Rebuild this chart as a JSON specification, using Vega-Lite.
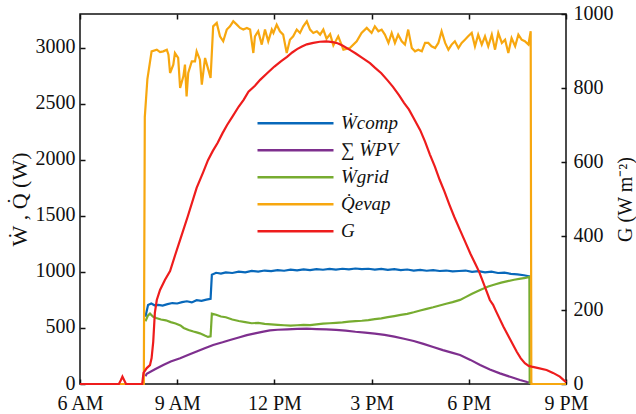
{
  "$schema": "https://vega.github.io/schema/vega-lite/v6.json",
  "width": 486,
  "height": 370,
  "autosize": {"type": "none"},
  "padding": {"left": 80, "top": 14, "right": 70, "bottom": 30},
  "background": "white",
  "config": {
    "font": "Liberation Serif",
    "view": {"stroke": "#111111", "strokeWidth": 1.5},
    "axis": {
      "domain": false,
      "grid": false,
      "tickSize": -5,
      "tickColor": "#111111",
      "tickWidth": 1.5,
      "labelFont": "Liberation Serif",
      "labelFontSize": 20,
      "labelColor": "#111111",
      "labelFlush": false,
      "labelOverlap": false,
      "titleFont": "Liberation Serif",
      "titleFontWeight": "normal",
      "titleColor": "#111111"
    }
  },
  "datasets": {
    "power": [
      {"t": 8.02, "s": "comp", "v": 600}, {"t": 8.1, "s": "comp", "v": 705}, {"t": 8.2, "s": "comp", "v": 718}, {"t": 8.3, "s": "comp", "v": 702},
      {"t": 8.42, "s": "comp", "v": 706}, {"t": 8.55, "s": "comp", "v": 700}, {"t": 8.7, "s": "comp", "v": 712}, {"t": 8.85, "s": "comp", "v": 722},
      {"t": 9.0, "s": "comp", "v": 718}, {"t": 9.15, "s": "comp", "v": 730}, {"t": 9.3, "s": "comp", "v": 738}, {"t": 9.45, "s": "comp", "v": 728},
      {"t": 9.6, "s": "comp", "v": 748}, {"t": 9.75, "s": "comp", "v": 742}, {"t": 9.9, "s": "comp", "v": 752}, {"t": 10.03, "s": "comp", "v": 760},
      {"t": 10.07, "s": "comp", "v": 975}, {"t": 10.2, "s": "comp", "v": 992}, {"t": 10.35, "s": "comp", "v": 985}, {"t": 10.5, "s": "comp", "v": 996},
      {"t": 10.7, "s": "comp", "v": 990}, {"t": 10.9, "s": "comp", "v": 1002}, {"t": 11.1, "s": "comp", "v": 996}, {"t": 11.3, "s": "comp", "v": 1008},
      {"t": 11.5, "s": "comp", "v": 1003}, {"t": 11.7, "s": "comp", "v": 1012}, {"t": 11.9, "s": "comp", "v": 1006}, {"t": 12.1, "s": "comp", "v": 1015},
      {"t": 12.3, "s": "comp", "v": 1010}, {"t": 12.5, "s": "comp", "v": 1020}, {"t": 12.7, "s": "comp", "v": 1014}, {"t": 12.9, "s": "comp", "v": 1022},
      {"t": 13.1, "s": "comp", "v": 1016}, {"t": 13.3, "s": "comp", "v": 1025}, {"t": 13.5, "s": "comp", "v": 1019}, {"t": 13.7, "s": "comp", "v": 1027},
      {"t": 13.9, "s": "comp", "v": 1020}, {"t": 14.1, "s": "comp", "v": 1028}, {"t": 14.3, "s": "comp", "v": 1022}, {"t": 14.5, "s": "comp", "v": 1030},
      {"t": 14.7, "s": "comp", "v": 1024}, {"t": 14.9, "s": "comp", "v": 1028}, {"t": 15.1, "s": "comp", "v": 1020}, {"t": 15.3, "s": "comp", "v": 1026},
      {"t": 15.5, "s": "comp", "v": 1018}, {"t": 15.7, "s": "comp", "v": 1024}, {"t": 15.9, "s": "comp", "v": 1015}, {"t": 16.1, "s": "comp", "v": 1021},
      {"t": 16.3, "s": "comp", "v": 1012}, {"t": 16.5, "s": "comp", "v": 1018}, {"t": 16.7, "s": "comp", "v": 1010}, {"t": 16.9, "s": "comp", "v": 1016},
      {"t": 17.1, "s": "comp", "v": 1008}, {"t": 17.3, "s": "comp", "v": 1012}, {"t": 17.5, "s": "comp", "v": 1004}, {"t": 17.7, "s": "comp", "v": 1008},
      {"t": 17.9, "s": "comp", "v": 1012}, {"t": 18.1, "s": "comp", "v": 1000}, {"t": 18.3, "s": "comp", "v": 1006}, {"t": 18.5, "s": "comp", "v": 995},
      {"t": 18.7, "s": "comp", "v": 1002}, {"t": 18.9, "s": "comp", "v": 990}, {"t": 19.1, "s": "comp", "v": 994}, {"t": 19.3, "s": "comp", "v": 982},
      {"t": 19.5, "s": "comp", "v": 978}, {"t": 19.7, "s": "comp", "v": 970}, {"t": 19.9, "s": "comp", "v": 958},

      {"t": 8.02, "s": "pv", "v": 70}, {"t": 8.06, "s": "pv", "v": 92}, {"t": 8.3, "s": "pv", "v": 130}, {"t": 8.57, "s": "pv", "v": 170},
      {"t": 8.8, "s": "pv", "v": 200}, {"t": 9.09, "s": "pv", "v": 229}, {"t": 9.35, "s": "pv", "v": 260}, {"t": 9.6, "s": "pv", "v": 289},
      {"t": 9.85, "s": "pv", "v": 318}, {"t": 10.11, "s": "pv", "v": 348}, {"t": 10.4, "s": "pv", "v": 372}, {"t": 10.63, "s": "pv", "v": 393},
      {"t": 10.9, "s": "pv", "v": 415}, {"t": 11.15, "s": "pv", "v": 436}, {"t": 11.4, "s": "pv", "v": 452}, {"t": 11.66, "s": "pv", "v": 467},
      {"t": 11.86, "s": "pv", "v": 478}, {"t": 12.1, "s": "pv", "v": 484}, {"t": 12.4, "s": "pv", "v": 488}, {"t": 12.7, "s": "pv", "v": 492},
      {"t": 13.0, "s": "pv", "v": 494}, {"t": 13.3, "s": "pv", "v": 490}, {"t": 13.6, "s": "pv", "v": 487}, {"t": 13.9, "s": "pv", "v": 482},
      {"t": 14.2, "s": "pv", "v": 476}, {"t": 14.5, "s": "pv", "v": 466}, {"t": 14.8, "s": "pv", "v": 458}, {"t": 15.1, "s": "pv", "v": 450},
      {"t": 15.4, "s": "pv", "v": 438}, {"t": 15.7, "s": "pv", "v": 422}, {"t": 16.0, "s": "pv", "v": 404}, {"t": 16.3, "s": "pv", "v": 384},
      {"t": 16.6, "s": "pv", "v": 358}, {"t": 16.9, "s": "pv", "v": 330}, {"t": 17.2, "s": "pv", "v": 302}, {"t": 17.5, "s": "pv", "v": 278},
      {"t": 17.73, "s": "pv", "v": 259}, {"t": 18.05, "s": "pv", "v": 215}, {"t": 18.35, "s": "pv", "v": 170}, {"t": 18.65, "s": "pv", "v": 130},
      {"t": 18.96, "s": "pv", "v": 95}, {"t": 19.3, "s": "pv", "v": 62}, {"t": 19.58, "s": "pv", "v": 36}, {"t": 19.8, "s": "pv", "v": 18},
      {"t": 19.95, "s": "pv", "v": 8},

      {"t": 8.02, "s": "grid", "v": 560}, {"t": 8.1, "s": "grid", "v": 612}, {"t": 8.16, "s": "grid", "v": 628}, {"t": 8.25, "s": "grid", "v": 602},
      {"t": 8.35, "s": "grid", "v": 588}, {"t": 8.5, "s": "grid", "v": 575}, {"t": 8.65, "s": "grid", "v": 568}, {"t": 8.8, "s": "grid", "v": 552},
      {"t": 8.95, "s": "grid", "v": 540}, {"t": 9.1, "s": "grid", "v": 522}, {"t": 9.2, "s": "grid", "v": 500}, {"t": 9.35, "s": "grid", "v": 482},
      {"t": 9.5, "s": "grid", "v": 468}, {"t": 9.6, "s": "grid", "v": 460}, {"t": 9.7, "s": "grid", "v": 452}, {"t": 9.85, "s": "grid", "v": 432},
      {"t": 9.95, "s": "grid", "v": 420}, {"t": 10.03, "s": "grid", "v": 425}, {"t": 10.07, "s": "grid", "v": 628}, {"t": 10.2, "s": "grid", "v": 618},
      {"t": 10.35, "s": "grid", "v": 602}, {"t": 10.5, "s": "grid", "v": 595}, {"t": 10.7, "s": "grid", "v": 575}, {"t": 10.9, "s": "grid", "v": 562},
      {"t": 11.1, "s": "grid", "v": 552}, {"t": 11.3, "s": "grid", "v": 542}, {"t": 11.5, "s": "grid", "v": 545}, {"t": 11.7, "s": "grid", "v": 536},
      {"t": 11.9, "s": "grid", "v": 532}, {"t": 12.1, "s": "grid", "v": 528}, {"t": 12.3, "s": "grid", "v": 524}, {"t": 12.5, "s": "grid", "v": 520},
      {"t": 12.7, "s": "grid", "v": 524}, {"t": 12.9, "s": "grid", "v": 528}, {"t": 13.1, "s": "grid", "v": 526}, {"t": 13.3, "s": "grid", "v": 532},
      {"t": 13.5, "s": "grid", "v": 538}, {"t": 13.7, "s": "grid", "v": 542}, {"t": 13.9, "s": "grid", "v": 546}, {"t": 14.1, "s": "grid", "v": 550},
      {"t": 14.3, "s": "grid", "v": 556}, {"t": 14.5, "s": "grid", "v": 560}, {"t": 14.7, "s": "grid", "v": 564}, {"t": 14.9, "s": "grid", "v": 570},
      {"t": 15.1, "s": "grid", "v": 578}, {"t": 15.3, "s": "grid", "v": 586}, {"t": 15.5, "s": "grid", "v": 596}, {"t": 15.7, "s": "grid", "v": 606},
      {"t": 15.9, "s": "grid", "v": 616}, {"t": 16.1, "s": "grid", "v": 626}, {"t": 16.3, "s": "grid", "v": 640}, {"t": 16.5, "s": "grid", "v": 656},
      {"t": 16.7, "s": "grid", "v": 670}, {"t": 16.9, "s": "grid", "v": 684}, {"t": 17.1, "s": "grid", "v": 700}, {"t": 17.3, "s": "grid", "v": 716},
      {"t": 17.5, "s": "grid", "v": 730}, {"t": 17.73, "s": "grid", "v": 750}, {"t": 17.9, "s": "grid", "v": 775}, {"t": 18.1, "s": "grid", "v": 805},
      {"t": 18.35, "s": "grid", "v": 839}, {"t": 18.6, "s": "grid", "v": 870}, {"t": 18.8, "s": "grid", "v": 888}, {"t": 19.0, "s": "grid", "v": 904},
      {"t": 19.2, "s": "grid", "v": 918}, {"t": 19.4, "s": "grid", "v": 930}, {"t": 19.6, "s": "grid", "v": 940}, {"t": 19.75, "s": "grid", "v": 946},
      {"t": 19.87, "s": "grid", "v": 955}, {"t": 19.88, "s": "grid", "v": 0},

      {"t": 6.0, "s": "evap", "v": 0}, {"t": 7.97, "s": "evap", "v": 0}, {"t": 8.0, "s": "evap", "v": 2380}, {"t": 8.08, "s": "evap", "v": 2720},
      {"t": 8.21, "s": "evap", "v": 2967}, {"t": 8.37, "s": "evap", "v": 2982}, {"t": 8.47, "s": "evap", "v": 2960}, {"t": 8.57, "s": "evap", "v": 2967},
      {"t": 8.68, "s": "evap", "v": 2982}, {"t": 8.73, "s": "evap", "v": 2937}, {"t": 8.78, "s": "evap", "v": 2774}, {"t": 8.88, "s": "evap", "v": 2848},
      {"t": 8.93, "s": "evap", "v": 2952}, {"t": 9.03, "s": "evap", "v": 2908}, {"t": 9.09, "s": "evap", "v": 2640}, {"t": 9.19, "s": "evap", "v": 2744},
      {"t": 9.24, "s": "evap", "v": 2848}, {"t": 9.29, "s": "evap", "v": 2565}, {"t": 9.34, "s": "evap", "v": 2774}, {"t": 9.45, "s": "evap", "v": 2878},
      {"t": 9.55, "s": "evap", "v": 2878}, {"t": 9.6, "s": "evap", "v": 2967}, {"t": 9.7, "s": "evap", "v": 2893}, {"t": 9.76, "s": "evap", "v": 2670},
      {"t": 9.86, "s": "evap", "v": 2908}, {"t": 9.96, "s": "evap", "v": 2804}, {"t": 10.03, "s": "evap", "v": 2729}, {"t": 10.11, "s": "evap", "v": 3190},
      {"t": 10.22, "s": "evap", "v": 3220}, {"t": 10.32, "s": "evap", "v": 3101}, {"t": 10.42, "s": "evap", "v": 3057}, {"t": 10.53, "s": "evap", "v": 3161},
      {"t": 10.63, "s": "evap", "v": 3190}, {"t": 10.73, "s": "evap", "v": 3235}, {"t": 10.84, "s": "evap", "v": 3205}, {"t": 10.94, "s": "evap", "v": 3176},
      {"t": 11.04, "s": "evap", "v": 3161}, {"t": 11.15, "s": "evap", "v": 3176}, {"t": 11.25, "s": "evap", "v": 3161}, {"t": 11.35, "s": "evap", "v": 2952},
      {"t": 11.4, "s": "evap", "v": 3101}, {"t": 11.5, "s": "evap", "v": 3146}, {"t": 11.61, "s": "evap", "v": 3027}, {"t": 11.71, "s": "evap", "v": 3161},
      {"t": 11.81, "s": "evap", "v": 3057}, {"t": 11.92, "s": "evap", "v": 3161}, {"t": 11.97, "s": "evap", "v": 3131}, {"t": 12.07, "s": "evap", "v": 3205},
      {"t": 12.17, "s": "evap", "v": 3146}, {"t": 12.27, "s": "evap", "v": 3116}, {"t": 12.38, "s": "evap", "v": 2952}, {"t": 12.48, "s": "evap", "v": 3071},
      {"t": 12.58, "s": "evap", "v": 3101}, {"t": 12.69, "s": "evap", "v": 3161}, {"t": 12.79, "s": "evap", "v": 3131}, {"t": 12.89, "s": "evap", "v": 3190},
      {"t": 13.0, "s": "evap", "v": 3235}, {"t": 13.1, "s": "evap", "v": 3161}, {"t": 13.2, "s": "evap", "v": 3131}, {"t": 13.31, "s": "evap", "v": 3146},
      {"t": 13.41, "s": "evap", "v": 3116}, {"t": 13.51, "s": "evap", "v": 3161}, {"t": 13.61, "s": "evap", "v": 3080}, {"t": 13.72, "s": "evap", "v": 3120},
      {"t": 13.82, "s": "evap", "v": 3020}, {"t": 13.97, "s": "evap", "v": 3101}, {"t": 14.13, "s": "evap", "v": 2982}, {"t": 14.33, "s": "evap", "v": 2997},
      {"t": 14.54, "s": "evap", "v": 3057}, {"t": 14.69, "s": "evap", "v": 3131}, {"t": 14.85, "s": "evap", "v": 3176}, {"t": 15.0, "s": "evap", "v": 3131},
      {"t": 15.1, "s": "evap", "v": 3190}, {"t": 15.21, "s": "evap", "v": 3146}, {"t": 15.31, "s": "evap", "v": 3161}, {"t": 15.41, "s": "evap", "v": 3116},
      {"t": 15.52, "s": "evap", "v": 3042}, {"t": 15.62, "s": "evap", "v": 3131}, {"t": 15.72, "s": "evap", "v": 3042}, {"t": 15.82, "s": "evap", "v": 3116},
      {"t": 15.93, "s": "evap", "v": 3057}, {"t": 16.03, "s": "evap", "v": 3027}, {"t": 16.13, "s": "evap", "v": 3161}, {"t": 16.24, "s": "evap", "v": 2997},
      {"t": 16.34, "s": "evap", "v": 2967}, {"t": 16.44, "s": "evap", "v": 2982}, {"t": 16.55, "s": "evap", "v": 2967}, {"t": 16.65, "s": "evap", "v": 3042},
      {"t": 16.75, "s": "evap", "v": 3042}, {"t": 16.85, "s": "evap", "v": 3012}, {"t": 16.96, "s": "evap", "v": 2997}, {"t": 17.06, "s": "evap", "v": 3042},
      {"t": 17.16, "s": "evap", "v": 3146}, {"t": 17.27, "s": "evap", "v": 3042}, {"t": 17.37, "s": "evap", "v": 2982}, {"t": 17.47, "s": "evap", "v": 3027},
      {"t": 17.57, "s": "evap", "v": 3057}, {"t": 17.68, "s": "evap", "v": 2997}, {"t": 17.78, "s": "evap", "v": 3042}, {"t": 17.88, "s": "evap", "v": 3071},
      {"t": 17.98, "s": "evap", "v": 3101}, {"t": 18.09, "s": "evap", "v": 3131}, {"t": 18.19, "s": "evap", "v": 3012}, {"t": 18.29, "s": "evap", "v": 3116},
      {"t": 18.4, "s": "evap", "v": 3027}, {"t": 18.5, "s": "evap", "v": 3101}, {"t": 18.6, "s": "evap", "v": 3012}, {"t": 18.71, "s": "evap", "v": 3116},
      {"t": 18.81, "s": "evap", "v": 2982}, {"t": 18.91, "s": "evap", "v": 3131}, {"t": 19.02, "s": "evap", "v": 3042}, {"t": 19.12, "s": "evap", "v": 3071},
      {"t": 19.22, "s": "evap", "v": 2952}, {"t": 19.32, "s": "evap", "v": 3086}, {"t": 19.43, "s": "evap", "v": 3012}, {"t": 19.53, "s": "evap", "v": 3116},
      {"t": 19.63, "s": "evap", "v": 3071}, {"t": 19.73, "s": "evap", "v": 3057}, {"t": 19.84, "s": "evap", "v": 3027}, {"t": 19.91, "s": "evap", "v": 3146},
      {"t": 19.93, "s": "evap", "v": 0}, {"t": 21.0, "s": "evap", "v": 0}
    ],
    "irradiance": [
      {"t": 6.0, "G": 0}, {"t": 7.2, "G": 0}, {"t": 7.26, "G": 10}, {"t": 7.31, "G": 20}, {"t": 7.36, "G": 11}, {"t": 7.42, "G": 0},
      {"t": 7.92, "G": 0}, {"t": 7.96, "G": 30}, {"t": 8.06, "G": 43}, {"t": 8.16, "G": 51}, {"t": 8.21, "G": 70}, {"t": 8.26, "G": 114},
      {"t": 8.31, "G": 192}, {"t": 8.37, "G": 227}, {"t": 8.47, "G": 254}, {"t": 8.62, "G": 281}, {"t": 8.78, "G": 305}, {"t": 8.95, "G": 352},
      {"t": 9.1, "G": 392}, {"t": 9.33, "G": 454}, {"t": 9.6, "G": 530}, {"t": 9.8, "G": 572}, {"t": 9.95, "G": 605}, {"t": 10.1, "G": 630},
      {"t": 10.25, "G": 652}, {"t": 10.4, "G": 678}, {"t": 10.54, "G": 700}, {"t": 10.7, "G": 722}, {"t": 10.9, "G": 750}, {"t": 11.05, "G": 768},
      {"t": 11.2, "G": 790}, {"t": 11.4, "G": 806}, {"t": 11.56, "G": 822}, {"t": 11.8, "G": 842}, {"t": 12.0, "G": 858}, {"t": 12.2, "G": 872},
      {"t": 12.39, "G": 884}, {"t": 12.55, "G": 896}, {"t": 12.7, "G": 905}, {"t": 12.85, "G": 912}, {"t": 13.0, "G": 918}, {"t": 13.2, "G": 922},
      {"t": 13.4, "G": 925}, {"t": 13.6, "G": 926}, {"t": 13.8, "G": 924}, {"t": 13.95, "G": 921}, {"t": 14.1, "G": 915}, {"t": 14.33, "G": 903},
      {"t": 14.5, "G": 894}, {"t": 14.7, "G": 882}, {"t": 14.95, "G": 867}, {"t": 15.1, "G": 855}, {"t": 15.3, "G": 840}, {"t": 15.5, "G": 820},
      {"t": 15.66, "G": 803}, {"t": 15.85, "G": 780}, {"t": 16.0, "G": 760}, {"t": 16.15, "G": 742}, {"t": 16.3, "G": 718}, {"t": 16.5, "G": 686},
      {"t": 16.65, "G": 655}, {"t": 16.8, "G": 620}, {"t": 16.95, "G": 588}, {"t": 17.1, "G": 552}, {"t": 17.25, "G": 520}, {"t": 17.4, "G": 485},
      {"t": 17.55, "G": 452}, {"t": 17.73, "G": 416}, {"t": 17.9, "G": 382}, {"t": 18.05, "G": 352}, {"t": 18.2, "G": 325}, {"t": 18.32, "G": 303},
      {"t": 18.5, "G": 262}, {"t": 18.65, "G": 227}, {"t": 18.75, "G": 214}, {"t": 18.85, "G": 195}, {"t": 19.07, "G": 155}, {"t": 19.25, "G": 125},
      {"t": 19.48, "G": 87}, {"t": 19.6, "G": 70}, {"t": 19.73, "G": 56}, {"t": 19.85, "G": 49}, {"t": 19.94, "G": 47}, {"t": 20.15, "G": 43},
      {"t": 20.4, "G": 38}, {"t": 20.6, "G": 30}, {"t": 20.81, "G": 20}, {"t": 21.0, "G": 5}
    ]
  },
  "layer": [
    {
      "data": {"name": "power"},
      "mark": {"type": "line", "strokeWidth": 2.2},
      "encoding": {
        "x": {
          "field": "t",
          "type": "quantitative",
          "scale": {"domain": [6, 21], "nice": false},
          "axis": {
            "values": [6, 9, 12, 15, 18, 21],
            "labelExpr": "datum.value == 12 ? '12 PM' : datum.value < 12 ? datum.value + ' AM' : (datum.value - 12) + ' PM'",
            "labelPadding": 14,
            "title": null
          }
        },
        "y": {
          "field": "v",
          "type": "quantitative",
          "scale": {"domain": [0, 3300], "nice": false},
          "axis": {
            "values": [0, 500, 1000, 1500, 2000, 2500, 3000],
            "format": "d",
            "labelPadding": 10,
            "labelOffset": -1,
            "title": "\u1E86 , Q\u0307 (W)",
            "titleFontSize": 22,
            "titlePadding": 4
          }
        },
        "color": {
          "field": "s",
          "type": "nominal",
          "scale": {
            "domain": ["comp", "pv", "grid", "evap", "G"],
            "range": ["#0868BA", "#7E2F8E", "#77AC30", "#F7A70F", "#EE1C1C"]
          },
          "legend": {
            "title": null,
            "orient": "none",
            "legendX": 176,
            "legendY": 96,
            "padding": 0,
            "symbolType": "stroke",
            "symbolSize": 5776,
            "symbolStrokeWidth": 2.5,
            "clipHeight": 26.3,
            "rowPadding": 0,
            "labelOffset": 6,
            "labelFont": "Liberation Serif",
            "labelFontSize": 19,
            "labelFontStyle": "italic",
            "labelColor": "#111111",
            "labelLimit": 200,
            "labelExpr": "datum.label == 'comp' ? '\u1E86comp' : datum.label == 'pv' ? '\u2211 \u1E86PV' : datum.label == 'grid' ? '\u1E86grid' : datum.label == 'evap' ? 'Q\u0307evap' : 'G'"
          }
        }
      }
    },
    {
      "data": {"name": "irradiance"},
      "mark": {"type": "line", "strokeWidth": 2.2},
      "encoding": {
        "x": {
          "field": "t",
          "type": "quantitative",
          "axis": {"orient": "top", "values": [6, 9, 12, 15, 18, 21], "labels": false, "title": null}
        },
        "y": {
          "field": "G",
          "type": "quantitative",
          "scale": {"domain": [0, 1000], "nice": false},
          "axis": {
            "orient": "right",
            "values": [0, 200, 400, 600, 800, 1000],
            "format": "d",
            "labelPadding": 12,
            "labelOffset": -1,
            "title": "G (W m\u207B\u00B2)",
            "titleFontSize": 20,
            "titleAngle": 270,
            "titleBaseline": "bottom",
            "titlePadding": 22
          }
        },
        "color": {"datum": "G"}
      }
    }
  ],
  "resolve": {"scale": {"y": "independent"}, "axis": {"x": "independent"}}
}
